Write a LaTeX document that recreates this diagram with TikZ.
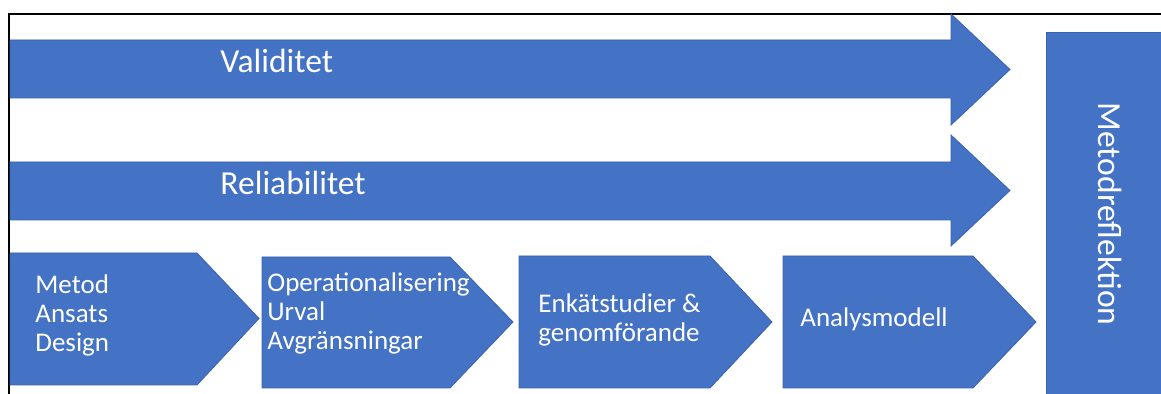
\documentclass[tikz,border=0pt]{standalone}
\usepackage{fontspec}
\setmainfont{Carlito}
\definecolor{accblue}{HTML}{4472C4}
\definecolor{edgeblue}{HTML}{3A62AE}
\tikzset{
  shapefill/.style={fill=accblue, draw=edgeblue, line width=0.4pt, line join=miter},
  bigtext/.style={text=white, inner sep=0pt, font=\fontsize{16.8}{19}\selectfont},
  smalltext/.style={text=white, inner sep=0pt, align=left, font=\fontsize{13.5}{14.5}\selectfont},
  framerule/.style={draw=black, line width=1.2pt}
}
\begin{document}
\begin{tikzpicture}[x=0.5pt,y=-0.5pt]
\useasboundingbox (0,0) rectangle (1161,394);
% frame
\draw[framerule] (9,394) -- (9,14) -- (1161,14);
% Validitet arrow
\path[shapefill] (10,40) -- (951,40) -- (951,14) -- (1010,69.5) -- (951,125) -- (951,98) -- (10,98) -- cycle;
% Reliabilitet arrow
\path[shapefill] (10,162) -- (951,162) -- (951,135) -- (1010,190.5) -- (951,246) -- (951,220) -- (10,220) -- cycle;
% chevrons
\path[shapefill] (10,253) -- (197,253) -- (259,318.5) -- (197,385) -- (10,385) -- cycle;
\path[shapefill] (262,257) -- (450,257) -- (513,322) -- (450,388) -- (262,388) -- cycle;
\path[shapefill] (519,256) -- (710,256) -- (772,322) -- (710,388) -- (519,388) -- cycle;
\path[shapefill] (783,256) -- (973,256) -- (1036,322) -- (973,388) -- (783,388) -- cycle;
% Metodreflektion box
\path[shapefill] (1046,32) rectangle (1162,395);
% texts
\node[bigtext, anchor=base west] (val) at (220,73) {Validitet};
\node[bigtext, anchor=base west] (rel) at (220,195) {Reliabilitet};
\node[smalltext, anchor=base west] (c1) at (35,352) {Metod\\Ansats\\Design};
\node[smalltext, anchor=base west] (c2) at (267,350) {Operationalisering\\Urval\\Avgränsningar};
\node[smalltext, anchor=base west] (c3) at (538,342) {Enkätstudier \&\\genomförande};
\node[smalltext, anchor=base west] (c4) at (800,327) {Analysmodell};
\node[bigtext, rotate=-90] (mr) at (1110,214) {Metodreflektion};
\end{tikzpicture}
\end{document}
